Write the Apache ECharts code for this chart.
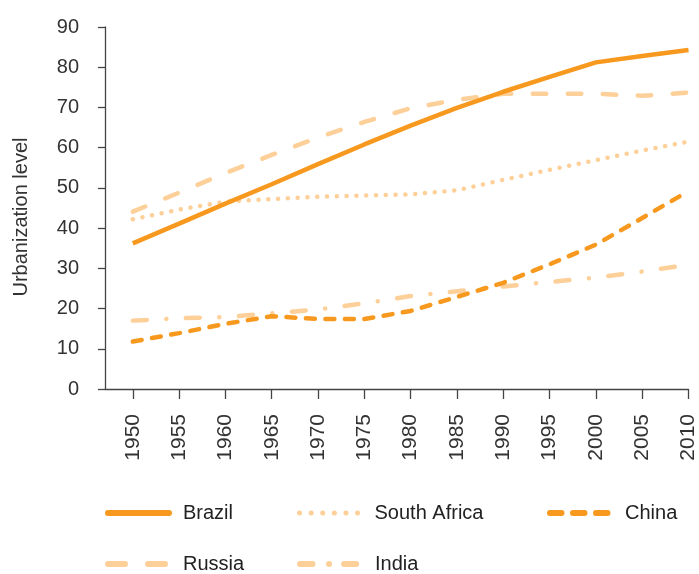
<!DOCTYPE html>
<html>
<head>
<meta charset="utf-8">
<script src="https://cdn.jsdelivr.net/npm/echarts@6/dist/echarts.min.js"></script>
<style>
  html, body { margin: 0; padding: 0; background: #fff; }
  #chart { width: 699px; height: 574px; }
</style>
</head>
<body>
<div id="chart"></div>
<script>
// years on the x axis
const years = [1950, 1955, 1960, 1965, 1970, 1975, 1980, 1985, 1990, 1995, 2000, 2005, 2010];
// urbanization level, %
const brazil = [36.2, 41.1, 46.1, 50.9, 55.9, 60.8, 65.5, 69.9, 73.9, 77.6, 81.2, 82.8, 84.3];
const southAfrica = [42.2, 44.6, 46.6, 47.2, 47.8, 48.1, 48.4, 49.4, 52.0, 54.5, 56.9, 59.3, 61.5];
const china = [11.8, 13.9, 16.2, 18.1, 17.4, 17.4, 19.4, 22.9, 26.4, 31.0, 35.9, 42.5, 49.2];
const russia = [44.1, 48.8, 53.7, 58.2, 62.5, 66.4, 69.8, 71.9, 73.4, 73.4, 73.4, 72.9, 73.7];
const india = [17.0, 17.6, 17.9, 18.8, 19.8, 21.3, 23.1, 24.3, 25.5, 26.6, 27.7, 29.2, 30.9];

const dark = '#f8991f';
const light = '#fdcf99';
const font = 'Liberation Sans';

const pairs = (vals) => years.map((y, i) => [y, vals[i]]);

function line(name, vals, color, type, cap, z) {
  return {
    name: name,
    type: 'line',
    data: pairs(vals),
    symbol: 'none',
    z: z,
    itemStyle: { color: color },
    lineStyle: { color: color, width: 4.5, type: type, cap: cap }
  };
}

// one legend per item, so each entry sits where the reference has it
function legendItem(name, left, top, width, pad, lineStyle) {
  return {
    left: left, top: top, padding: 0,
    itemWidth: width, itemHeight: 20,
    itemStyle: { opacity: 0 }, // hide the circle marker, keep only the line
    textStyle: {
      fontFamily: font, fontSize: 20, color: '#222', lineHeight: 20,
      padding: [0, 0, 0, pad]
    },
    data: [{ name: name, lineStyle: lineStyle }]
  };
}

const chart = echarts.init(document.getElementById('chart'));
chart.setOption({
  animation: false,
  grid: { left: 105, right: 8, top: 27, bottom: 185 },
  xAxis: {
    type: 'value',
    min: 1947,
    max: 2010,
    axisLine: { lineStyle: { color: '#444', width: 1.3 } },
    axisTick: { customValues: years, length: 10, lineStyle: { color: '#444', width: 1.3 } },
    axisLabel: {
      customValues: years,
      formatter: (v) => String(v),
      rotate: 90,
      margin: 25,
      fontFamily: font, fontSize: 21, color: '#333'
    },
    splitLine: { show: false }
  },
  yAxis: {
    type: 'value',
    min: 0,
    max: 90,
    interval: 10,
    name: 'Urbanization level',
    nameLocation: 'middle',
    nameGap: 74,
    nameTextStyle: { fontFamily: font, fontSize: 20, color: '#333', padding: [0, 18, 0, 0] },
    axisLine: { show: true, lineStyle: { color: '#444', width: 1.3 } },
    axisTick: { show: true, length: 7, lineStyle: { color: '#444', width: 1.3 } },
    axisLabel: { margin: 26, fontFamily: font, fontSize: 20, color: '#333' },
    splitLine: { show: false }
  },
  legend: [
    legendItem('Brazil', 105, 503, 61, 9, { width: 6, type: 'solid', cap: 'round' }),
    legendItem('Russia', 105, 554, 61, 9, { width: 6, type: [17, 23], cap: 'round' }),
    legendItem('South Africa', 297, 503, 60, 10, { width: 5, type: [0.1, 11.5], cap: 'round' }),
    legendItem('India', 297, 554, 58, 12, { width: 6, type: [12.5, 16.5, 0.1, 15, 12, 100], cap: 'round' }),
    legendItem('China', 547, 503, 58, 12, { width: 6, type: [11.5, 11.5], cap: 'round' })
  ],
  series: [
    line('India', india, light, [14, 19.5, 0.1, 19.5], 'round', 2),
    line('Russia', russia, light, [13.5, 21.5], 'round', 3),
    line('South Africa', southAfrica, light, [0.1, 9.7], 'round', 4),
    line('China', china, dark, [9, 10.5], 'round', 5),
    line('Brazil', brazil, dark, 'solid', 'butt', 6)
  ]
});
</script>
</body>
</html>
